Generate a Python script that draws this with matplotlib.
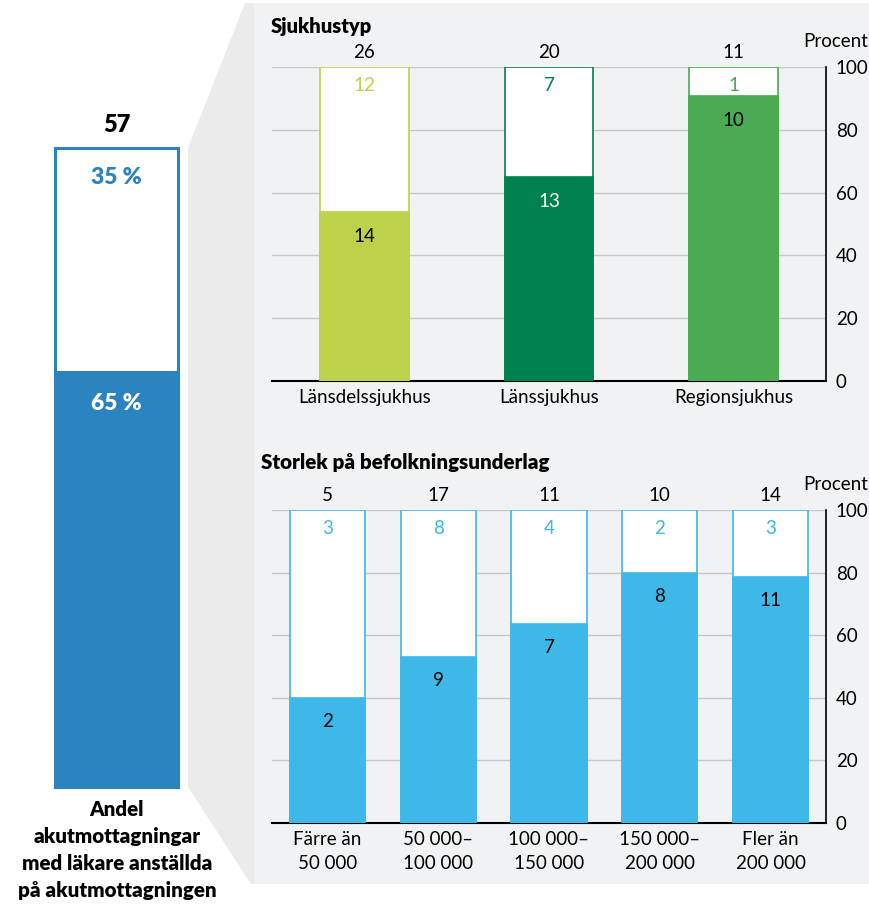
import matplotlib
matplotlib.use("Agg")
import matplotlib.pyplot as plt
from matplotlib.patches import Polygon, Rectangle
import numpy as np

plt.rcParams['font.family'] = ['Lato', 'DejaVu Sans']

# ---- data ----
total_all = 57
share_all = [35, 65]          # % without / with
overview_labels = ["35 %", "65 %"]

hosp_types = ["Länsdelssjukhus", "Länssjukhus", "Regionsjukhus"]
hosp_total = [26, 20, 11]
hosp_yes = [14, 13, 10]
hosp_no = [12, 7, 1]
hosp_colors = ["#bdd14a", "#008150", "#4aab52"]
hosp_inner_text = ["black", "white", "black"]

pop_groups = ["Färre än\n50 000", "50 000–\n100 000", "100 000–\n150 000",
              "150 000–\n200 000", "Fler än\n200 000"]
pop_total = [5, 17, 11, 10, 14]
pop_yes = [2, 9, 7, 8, 11]
pop_no = [3, 8, 4, 2, 3]
pop_color = "#3db8e8"

yticks = [0, 20, 40, 60, 80, 100]

W, H = 870, 909
fig = plt.figure(figsize=(W / 100, H / 100), dpi=100)
fig.patch.set_facecolor("white")


def rect(l, t, r, b):
    return [l / W, 1 - b / H, (r - l) / W, (b - t) / H]


# background
bg = fig.add_axes([0, 0, 1, 1])
bg.set_xlim(0, W)
bg.set_ylim(H, 0)
bg.axis("off")
bg.set_zorder(-10)
bg.add_patch(Polygon([(188, 148), (245, 3), (256, 3), (256, 884), (251, 884), (188, 787)],
                     closed=True, facecolor="#ebebec", edgecolor="none"))
bg.add_patch(Rectangle((254, 3), W - 254, 881, facecolor="#f1f2f3", edgecolor="none"))

# caption under left bar
bg.text(117, 850, "Andel\nakutmottagningar\nmed läkare anställda\npå akutmottagningen",
        ha="center", va="center", fontsize=14.8, fontweight="heavy", linespacing=1.5,
        color="black")

# ---- left overview bar ----
axL = fig.add_axes(rect(55, 148, 178, 787))
axL.set_xlim(-0.5, 0.5)
axL.set_ylim(0, 100)
axL.axis("off")
blue = "#2b83c0"
axL.bar(0, 100, width=1, color="white", edgecolor=blue, linewidth=2.2, clip_on=False)
axL.bar(0, share_all[1], width=1, color=blue, edgecolor=blue, linewidth=2.2, clip_on=False)
axL.annotate(str(total_all), (0, 100), xytext=(0, 9), textcoords="offset points",
             ha="center", va="bottom", fontsize=17, fontweight="heavy")
axL.annotate(overview_labels[0], (0, 100), xytext=(0, -21), textcoords="offset points",
             ha="center", va="center", fontsize=16.5, fontweight="heavy", color=blue)
axL.annotate(overview_labels[1], (0, share_all[1]), xytext=(0, -23), textcoords="offset points",
             ha="center", va="center", fontsize=16.5, fontweight="heavy", color="white")


def style_axis(ax, ncat):
    ax.set_facecolor("none")
    ax.set_ylim(0, 100)
    ax.set_xlim(-0.5, ncat - 0.5)
    for s in ["top", "left"]:
        ax.spines[s].set_visible(False)
    ax.spines["right"].set_color("black")
    ax.spines["bottom"].set_color("black")
    ax.spines["right"].set_linewidth(1.2)
    ax.spines["bottom"].set_linewidth(1.5)
    ax.yaxis.tick_right()
    ax.set_yticks(yticks)
    ax.tick_params(axis="y", length=0, pad=7, labelsize=13.5)
    ax.tick_params(axis="x", length=0, pad=6, labelsize=13.5)
    ax.yaxis.grid(True, color="#c8c8c8", linewidth=1)
    ax.set_axisbelow(True)
    # "Procent" right-aligned to about x=866 px
    ax.annotate("Procent", (1, 1), xycoords="axes fraction", xytext=(30, 12),
                textcoords="offset points", ha="right", va="bottom", fontsize=13.5)


# ---- top chart: hospital type ----
ax1 = fig.add_axes(rect(272, 67, 826, 381))
style_axis(ax1, len(hosp_types))
x1 = np.arange(len(hosp_types))
for i in range(len(hosp_types)):
    pct = hosp_yes[i] / hosp_total[i] * 100
    c = hosp_colors[i]
    ax1.bar(x1[i], 100, width=0.48, color="white", edgecolor=c, linewidth=1.2, zorder=2)
    ax1.bar(x1[i], pct, width=0.48, color=c, edgecolor=c, linewidth=1.2, zorder=3)
    ax1.annotate(str(hosp_total[i]), (x1[i], 100), xytext=(0, 4), textcoords="offset points",
                 ha="center", va="bottom", fontsize=13.5)
    ax1.annotate(str(hosp_no[i]), (x1[i], 100), xytext=(0, -13), textcoords="offset points",
                 ha="center", va="center", fontsize=13.5, color=c, zorder=4)
    ax1.annotate(str(hosp_yes[i]), (x1[i], pct), xytext=(0, -18), textcoords="offset points",
                 ha="center", va="center", fontsize=13.5, color=hosp_inner_text[i], zorder=4)
ax1.set_xticks(x1)
ax1.set_xticklabels(hosp_types)
bg.text(271, 27, "Sjukhustyp", ha="left", va="center", fontsize=14.5, fontweight="heavy")

# ---- bottom chart: population ----
ax2 = fig.add_axes(rect(272, 510, 826, 823))
style_axis(ax2, len(pop_groups))
x2 = np.arange(len(pop_groups))
for i in range(len(pop_groups)):
    pct = pop_yes[i] / pop_total[i] * 100
    ax2.bar(x2[i], 100, width=0.68, color="white", edgecolor=pop_color, linewidth=1.2, zorder=2)
    ax2.bar(x2[i], pct, width=0.68, color=pop_color, edgecolor=pop_color, linewidth=1.2, zorder=3)
    ax2.annotate(str(pop_total[i]), (x2[i], 100), xytext=(0, 4), textcoords="offset points",
                 ha="center", va="bottom", fontsize=13.5)
    ax2.annotate(str(pop_no[i]), (x2[i], 100), xytext=(0, -13), textcoords="offset points",
                 ha="center", va="center", fontsize=13.5, color=pop_color, zorder=4)
    ax2.annotate(str(pop_yes[i]), (x2[i], pct), xytext=(0, -17), textcoords="offset points",
                 ha="center", va="center", fontsize=13.5, color="black", zorder=4)
ax2.set_xticks(x2)
ax2.set_xticklabels(pop_groups, linespacing=1.45)
bg.text(261, 462, "Storlek på befolkningsunderlag", ha="left", va="center",
        fontsize=14.8, fontweight="heavy")

fig.savefig("out.png", dpi=100, facecolor="white")
